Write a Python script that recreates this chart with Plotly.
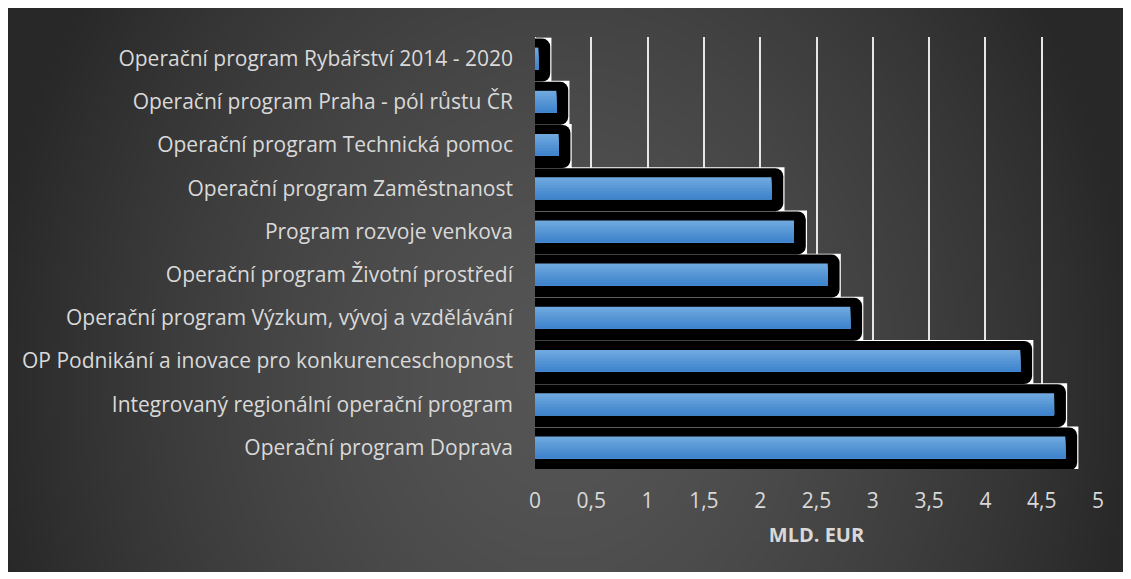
import base64, struct, zlib
import numpy as np
import plotly.graph_objects as go

# ---- data ----
categories = [
    "Operační program Doprava",
    "Integrovaný regionální operační program",
    "OP Podnikání a inovace pro konkurenceschopnost",
    "Operační program Výzkum, vývoj a vzdělávání",
    "Operační program Životní prostředí",
    "Program rozvoje venkova",
    "Operační program Zaměstnanost",
    "Operační program Technická pomoc",
    "Operační program Praha - pól růstu ČR",
    "Operační program Rybářství 2014 - 2020",
]
values = [4.71, 4.61, 4.31, 2.80, 2.60, 2.30, 2.10, 0.21, 0.19, 0.03]
x_ticks = [0, 0.5, 1, 1.5, 2, 2.5, 3, 3.5, 4, 4.5, 5]
axis_title = "MLD. EUR"

# ---- layout geometry (page pixels; page body has an 8px margin) ----
OFF = 8
W, H = 1131 - OFF, 579 - OFF
L, R, T, B = 535 - OFF, 1098 - OFF, 37 - OFF, 469 - OFF
pw, ph = R - L, B - T

# ---- radial gradient background as PNG ----
def make_png(arr):
    h, w = arr.shape
    raw = b"".join(b"\x00" + arr[i].tobytes() for i in range(h))
    def chunk(t, d):
        c = struct.pack(">I", len(d)) + t + d
        return c + struct.pack(">I", zlib.crc32(t + d) & 0xffffffff)
    png = b"\x89PNG\r\n\x1a\n"
    png += chunk(b"IHDR", struct.pack(">IIBBBBB", w, h, 8, 0, 0, 0, 0))
    png += chunk(b"IDAT", zlib.compress(raw, 9))
    png += chunk(b"IEND", b"")
    return "data:image/png;base64," + base64.b64encode(png).decode()

bx0, by0, bx1, by1 = 0, 0, 1124 - OFF, 572 - OFF
gw, gh = 280, 142
xs = np.linspace(bx0 + OFF, bx1 + OFF, gw)
ys = np.linspace(by0 + OFF, by1 + OFF, gh)
X, Y = np.meshgrid(xs, ys)
d = np.sqrt(((X - 560) / 580) ** 2 + ((Y - 380) / 700) ** 2)
val = 40 + 45 * (1 - np.clip(d, 0, 1) ** 1.5)
bg = make_png(np.clip(val, 0, 255).astype(np.uint8))

fig = go.Figure()

# white box behind shadow
fig.add_trace(go.Bar(
    y=categories, x=[v + 0.116 for v in values], orientation="h",
    width=1.03, offset=-0.545, marker=dict(color="#ffffff", line=dict(width=0)),
    hoverinfo="skip", showlegend=False))
# black rounded shadow
fig.add_trace(go.Bar(
    y=categories, x=[v + 0.105 for v in values], orientation="h",
    width=0.995, offset=-0.532, marker=dict(color="#000000", line=dict(width=0), cornerradius=8),
    hoverinfo="skip", showlegend=False))
# blue gradient bar (overlapping strips, top to bottom)
n = 8
top = np.array([114, 171, 224])
bot = np.array([60, 130, 204])
bw = 0.51
for k in range(n):
    t = (k + 0.5) / n
    c = top * (1 - t) + bot * t
    top_edge = bw / 2 - k * bw / n
    fig.add_trace(go.Bar(
        y=categories, x=values, orientation="h",
        width=top_edge + bw / 2, offset=-bw / 2,
        marker=dict(color="rgb(%d,%d,%d)" % tuple(c.astype(int)), line=dict(width=0)),
        hoverinfo="skip", showlegend=False))

fig.update_layout(
    width=W, height=H,
    margin=dict(l=L, r=W - R, t=T, b=H - B, pad=0),
    paper_bgcolor="#ffffff",
    plot_bgcolor="rgba(0,0,0,0)",
    barmode="overlay",
    separators=", ",
    font=dict(family="Open Sans", color="#d9d9d9", size=21),
    images=[dict(
        source=bg, xref="paper", yref="paper",
        x=(bx0 - L) / pw, y=(B - by0) / ph,
        sizex=(bx1 - bx0) / pw, sizey=(by1 - by0) / ph,
        xanchor="left", yanchor="top", sizing="stretch", layer="below")],
    xaxis=dict(
        range=[0, 5], tickvals=x_ticks, showgrid=True, gridcolor="#e6e6e6", gridwidth=2,
        zeroline=False, showline=False, ticks="", ticklabelstandoff=17,
        tickfont=dict(size=21, color="#d9d9d9"),
        title=dict(text="<b>" + axis_title + "</b>", font=dict(size=20, color="#d9d9d9"), standoff=14),
        fixedrange=True),
    yaxis=dict(
        type="category", categoryorder="array", categoryarray=categories,
        range=[-0.5, len(categories) - 0.5],
        showgrid=False, zeroline=False, showline=False, ticks="",
        ticklabelstandoff=21, tickfont=dict(size=21, color="#d9d9d9"),
        fixedrange=True),
    shapes=[dict(type="line", xref="x", yref="paper", x0=0, x1=0, y0=0, y1=1,
                 line=dict(color="#e6e6e6", width=2), layer="below")],
)

fig.write_html("out.html", config={"displayModeBar": False})
